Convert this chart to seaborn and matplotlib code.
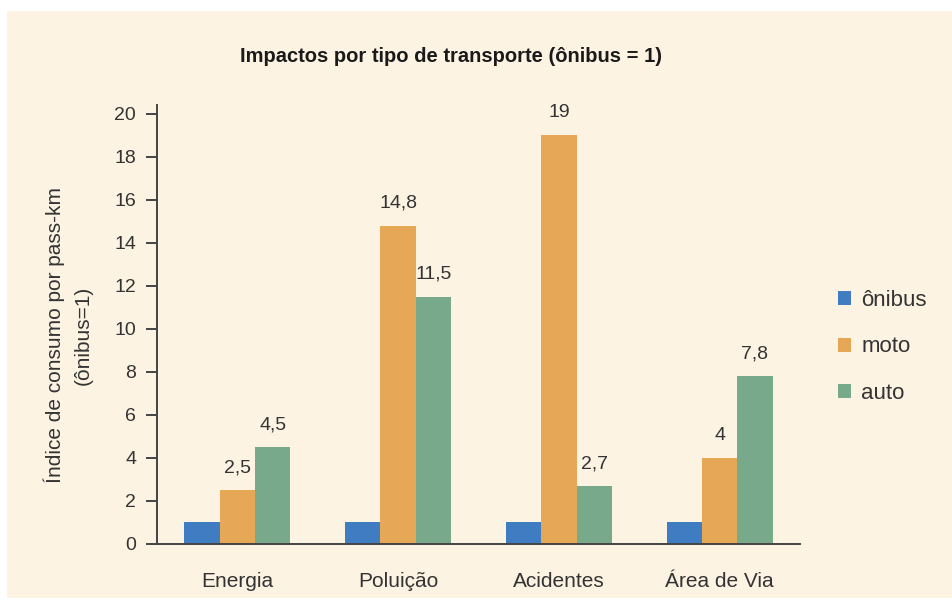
import matplotlib
matplotlib.use('Agg')
import matplotlib.pyplot as plt
from matplotlib.patches import Rectangle
import seaborn as sns
import pandas as pd

# Data
categorias = ['Energia', 'Poluição', 'Acidentes', 'Área de Via']
series = ['ônibus', 'moto', 'auto']
onibus = [1, 1, 1, 1]
moto = [2.5, 14.8, 19, 4]
auto = [4.5, 11.5, 2.7, 7.8]
cores = ['#3F7CC2', '#E6A757', '#78A98A']
yticks = [0, 2, 4, 6, 8, 10, 12, 14, 16, 18, 20]

df = pd.DataFrame({
    'categoria': categorias * 3,
    'serie': [s for s in series for _ in categorias],
    'valor': onibus + moto + auto,
})

bg = '#FDF3E3'
txt = '#333333'

sns.set_theme(style='white')
plt.rcParams['font.family'] = ['Liberation Sans', 'DejaVu Sans']

fig = plt.figure(figsize=(9.53, 6.0), dpi=100, facecolor=bg)
ax = fig.add_axes([157 / 953, 56 / 600, 643 / 953, 439 / 600])
ax.set_facecolor(bg)

# white border of the scanned image
for (x0, y0, w, h) in [(0, 1 - 11 / 600, 1, 11 / 600), (0, 0, 7 / 953, 1), (0, 0, 1, 2 / 600)]:
    fig.patches.append(Rectangle((x0, y0), w, h, transform=fig.transFigure,
                                 facecolor='white', edgecolor='none', zorder=0))

sns.barplot(data=df, x='categoria', y='valor', hue='serie', order=categorias,
            hue_order=series, palette=cores, width=0.66, gap=0, saturation=1,
            edgecolor='none', linewidth=0, ax=ax)

def fmt(v):
    return f'{v:g}'.replace('.', ',')

for cont, vals in zip(ax.containers[1:], [moto, auto]):
    ax.bar_label(cont, labels=[fmt(v) for v in vals], padding=10,
                 fontsize=14, color=txt)

ax.set_xlim(-0.5, 3.5)
ax.set_ylim(0, 20.4)
ax.set_yticks(yticks)
ax.set_xlabel('')
ax.set_ylabel('Índice de consumo por pass-km\n(ônibus=1)', fontsize=15,
              color=txt, multialignment='center', linespacing=1.6)
ax.yaxis.set_label_coords(-0.10, 0.476)

sns.despine(ax=ax)
for s in ['left', 'bottom']:
    ax.spines[s].set_color('#444444')
    ax.spines[s].set_linewidth(1.4)
ax.tick_params(axis='y', left=True, length=8, width=1.4, color='#444444',
               pad=7, labelsize=14, labelcolor=txt)
ax.tick_params(axis='x', bottom=False, length=0, pad=20, labelsize=15,
               labelcolor=txt)

fig.text(451 / 953, 1 - 56 / 600, 'Impactos por tipo de transporte (ônibus = 1)',
         ha='center', va='center', fontsize=14.5, fontweight='bold', color='#1a1a1a')

handles, labels = ax.get_legend_handles_labels()
ax.legend(handles, labels, loc='center left', bbox_to_anchor=(838 / 953, 1 - 347 / 600),
          bbox_transform=fig.transFigure, frameon=False, fontsize=16,
          handlelength=0.6, handleheight=0.6, handletextpad=0.45,
          labelspacing=1.15, borderpad=0, borderaxespad=0, labelcolor=txt)

fig.savefig('out.png', dpi=100, facecolor=bg)
